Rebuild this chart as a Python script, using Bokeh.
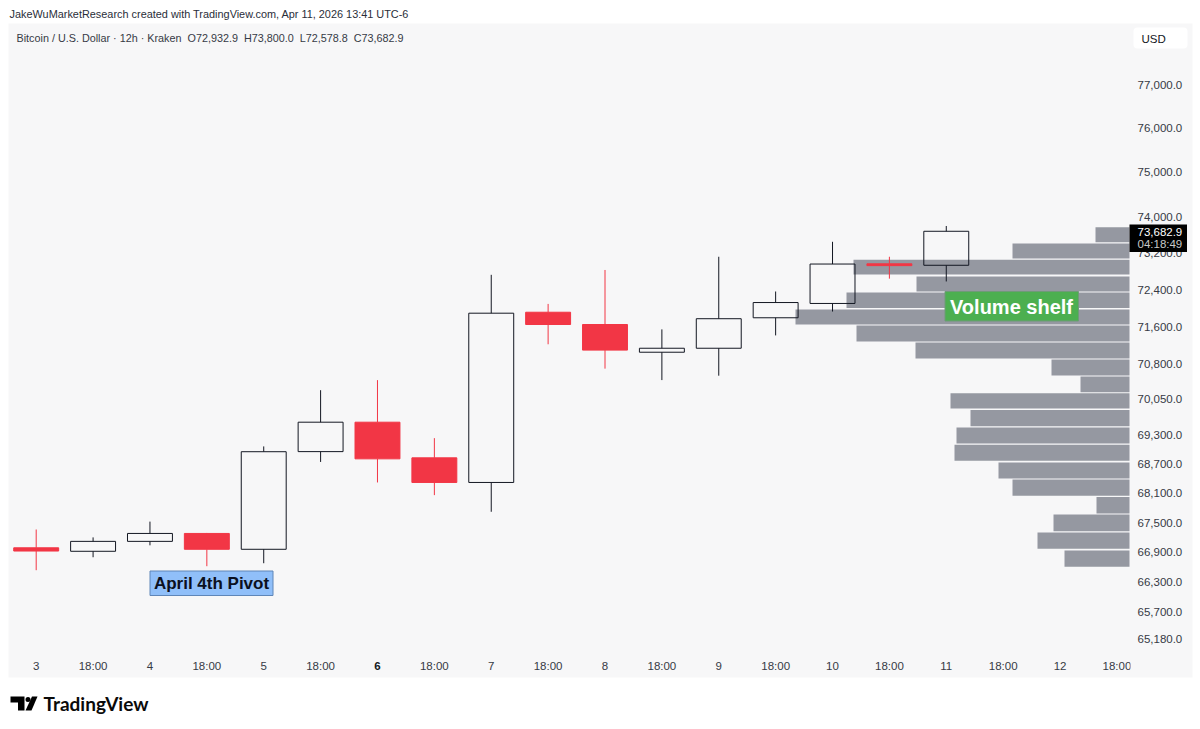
import math
from bokeh.plotting import figure
from bokeh.embed import file_html
from bokeh.resources import INLINE
from bokeh.models import (ColumnDataSource, Range1d, FixedTicker, NumeralTickFormatter,
                          Label, BoxAnnotation, PolyAnnotation, LinearAxis, LogAxis)

# ---- data -------------------------------------------------------------
x_tick_labels = ["3", "18:00", "4", "18:00", "5", "18:00", "6", "18:00", "7", "18:00",
                 "8", "18:00", "9", "18:00", "10", "18:00", "11", "18:00", "12", "18:00"]
opens  = [66990, 66920, 67120, 67280, 66960, 68957, 69570, 68828, 68320, 71910,
          71645, 71050, 71135, 71790, 72100, 72965, 72932.9]
highs  = [67360, 67200, 67520, 67290, 69065, 70243, 70456, 69237, 72724, 72090,
          72830, 71540, 73120, 72360, 73450, 73120, 73800.0]
lows   = [66540, 66800, 67040, 66620, 66680, 68743, 68320, 68060, 67720, 71220,
          70700, 70457, 70550, 71410, 71925, 72640, 72578.8]
closes = [66925, 67120, 67280, 66960, 68955, 69570, 68807, 68320, 71889, 71645,
          71095, 71135, 71770, 72120, 72960, 72925, 73682.9]

price_ticks = [77000, 76000, 75000, 74000, 73200, 72400, 71600, 70800, 70050, 69300,
               68700, 68100, 67500, 66900, 66300, 65700, 65180]

# volume profile rows, top to bottom (row price limits and volume)
vp_tops    = [73773, 73412, 73053, 72687, 72338, 71969, 71624, 71258, 70895, 70533,
              70180, 69826, 69459, 69099, 68732, 68381, 68022, 67665, 67299, 66936]
vp_bottoms = [73441, 73082, 72731, 72360, 72001, 71645, 71279, 70916, 70554, 70200,
              69857, 69486, 69126, 68767, 68402, 68046, 67685, 67325, 66970, 66608]
vp_volumes = [34, 117, 276, 213, 283, 334, 273, 214, 78, 49,
              179, 159, 173, 175, 131, 117, 33, 76, 92, 65]

header_1 = "JakeWuMarketResearch created with TradingView.com, Apr 11, 2026 13:41 UTC-6"
header_2 = "Bitcoin / U.S. Dollar \u00b7 12h \u00b7 Kraken\u00a0\u00a0O72,932.9\u00a0\u00a0H73,800.0\u00a0\u00a0L72,578.8\u00a0\u00a0C73,682.9"

# ---- style / layout ---------------------------------------------------
W, H = 1200, 729
BG = "#f7f7f8"
RED = "#f23645"
INK = "#131722"
TXT = "#363a45"
FONT = "Liberation Sans"
BODY_W = 0.79
SLOT = 56.88      # pixels per bar
X0 = 35.7         # pixel of bar 0
K = 3324.0        # pixels per log unit of price
P_REF, Y_REF = 77000.0, 84.4

def x_at(px):
    return (px - X0) / SLOT
def p_at(py):
    return P_REF * math.exp(-(py - Y_REF) / K)
def fx(px):
    return px
def fy(py):
    return H - py

p = figure(width=W, height=H, output_backend="svg", toolbar_location=None,
           y_axis_type="log", x_axis_location=None, y_axis_location=None,
           x_range=Range1d(x_at(0), x_at(W)), y_range=Range1d(p_at(H), p_at(0)),
           min_border=0, min_border_left=0, min_border_right=0,
           min_border_top=0, min_border_bottom=0)
p.border_fill_color = "#ffffff"
p.background_fill_color = "#ffffff"
p.outline_line_color = None
p.grid.visible = False
p.extra_x_ranges = {"vol": Range1d(1129, 1129 - W)}

def screen_box(left, right, top, bottom, fill, edge=None, level="overlay", **kw):
    b = BoxAnnotation(left=fx(left), right=fx(right), top=fy(top), bottom=fy(bottom),
                      left_units="screen", right_units="screen",
                      top_units="screen", bottom_units="screen",
                      fill_color=fill, fill_alpha=1, line_color=edge, line_alpha=1,
                      level=level, **kw)
    p.add_layout(b)

def text(px, py, s, size="11.5px", color=TXT, style="normal", align="left", font=FONT):
    p.add_layout(Label(x=fx(px), y=fy(py), x_units="screen", y_units="screen", text=s,
                       text_font=font, text_font_size=size, text_font_style=style,
                       text_color=color, text_align=align, text_baseline="middle",
                       level="overlay"))

# panel background, including the axis strips
screen_box(8, 1192, 23, 677, BG, level="underlay")

# axes
ya = LogAxis(fixed_location=x_at(1130), ticker=FixedTicker(ticks=price_ticks),
             formatter=NumeralTickFormatter(format="0,0.0"),
             axis_line_color=None, major_tick_line_color=None, minor_tick_line_color=None,
             major_tick_out=0, major_tick_in=0, minor_tick_out=0, minor_tick_in=0,
             major_label_text_font=FONT, major_label_text_font_size="11.5px",
             major_label_text_color=TXT, major_label_standoff=7)
p.add_layout(ya, "right")

BOLD_TICK = 6
xa = LinearAxis(fixed_location=p_at(655),
                ticker=FixedTicker(ticks=[i for i in range(len(x_tick_labels)) if i != BOLD_TICK]),
                major_label_overrides={i: t for i, t in enumerate(x_tick_labels) if i != BOLD_TICK},
                axis_line_color=None, major_tick_line_color=None, minor_tick_line_color=None,
                major_tick_out=0, major_tick_in=0, minor_tick_out=0, minor_tick_in=0,
                major_label_text_font=FONT, major_label_text_font_size="11.5px",
                major_label_text_color=TXT, major_label_standoff=4)
p.add_layout(xa, "below")

p.add_layout(Label(x=BOLD_TICK, y=fy(665), x_units="data", y_units="screen",
                   text=x_tick_labels[BOLD_TICK], text_font=FONT, text_font_size="11.5px",
                   text_font_style="bold", text_color=INK,
                   text_align="center", text_baseline="middle", level="overlay"))

# last time label is cut by the price scale
screen_box(1130, 1137, 657, 675, BG)

# volume profile
vp = ColumnDataSource(dict(left=vp_volumes, right=[0] * len(vp_volumes),
                           top=vp_tops, bottom=vp_bottoms))
p.quad(left="left", right="right", top="top", bottom="bottom", source=vp,
       x_range_name="vol", fill_color="#9598a1", line_color=None)

# candles
idx = list(range(len(opens)))
up = [i for i in idx if closes[i] >= opens[i]]
dn = [i for i in idx if closes[i] < opens[i]]

def wick_source(ids):
    return ColumnDataSource(dict(
        x=ids + ids,
        y0=[highs[i] for i in ids] + [lows[i] for i in ids],
        y1=[max(opens[i], closes[i]) for i in ids] + [min(opens[i], closes[i]) for i in ids]))

def body_source(ids):
    return ColumnDataSource(dict(
        x=ids,
        top=[max(opens[i], closes[i]) for i in ids],
        bottom=[min(opens[i], closes[i]) for i in ids]))

p.segment(x0="x", x1="x", y0="y0", y1="y1", source=wick_source(up), line_color=INK, line_width=1)
p.segment(x0="x", x1="x", y0="y0", y1="y1", source=wick_source(dn), line_color=RED, line_width=1)
p.vbar(x="x", top="top", bottom="bottom", width=BODY_W, source=body_source(up),
       fill_color=None, line_color=INK, line_width=1)
p.vbar(x="x", top="top", bottom="bottom", width=BODY_W, source=body_source(dn),
       fill_color=RED, line_color=RED, line_width=1)

# callouts
screen_box(149.5, 272.5, 570.5, 595, "#90bff9", "#5f86b8")
text(211, 583, "April 4th Pivot", size="17px", color="#0b1020", style="bold", align="center")
screen_box(944.5, 1078, 291, 320.5, "#4caf50", "#6f9a78")
text(1011, 306, "Volume shelf", size="20px", color="#ffffff", style="bold", align="center")

# header texts
text(9, 13.5, header_1, size="10.9px", color="#2a2e39")
text(16, 37, header_2, size="10.8px")

# USD button
screen_box(1133, 1187, 27, 48, "#ffffff", border_radius=4)
text(1141, 38, "USD", color=INK)

# last price tag
screen_box(1129, 1186.5, 224, 251.5, "#000000")
text(1137, 231.5, "73,682.9", color="#ffffff")
text(1137, 243.5, "04:18:49", color="#c8c8c8")

# TradingView wordmark
for xs, ys in [([10, 24, 24, 17.5, 17.5, 10], [696, 696, 710, 710, 702, 702]),
               ([31.5, 37, 31, 25], [696, 696, 710, 710])]:
    p.add_layout(PolyAnnotation(xs=[fx(v) for v in xs], ys=[fy(v) for v in ys],
                                xs_units="screen", ys_units="screen",
                                fill_color="#000000", fill_alpha=1, line_color=None,
                                level="overlay"))
screen_box(25, 30, 696.5, 701.5, "#000000", border_radius=3)
text(43, 703, "TradingView", size="19px", color="#0a0a0a", style="bold", font="Lato")

open("out.html", "w").write(file_html(p, INLINE))
